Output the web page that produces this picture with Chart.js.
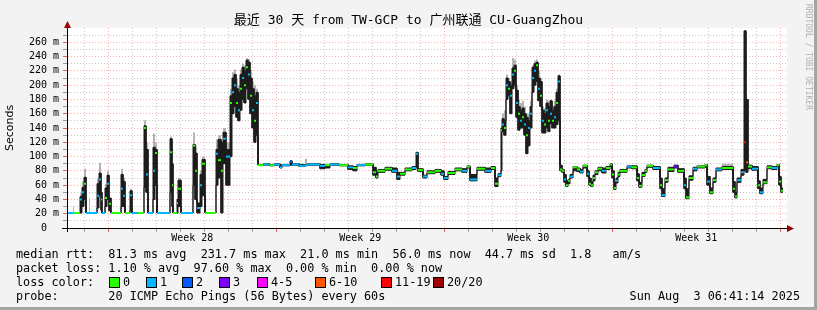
<!DOCTYPE html>
<html><head><meta charset="utf-8">
<script src="https://cdn.jsdelivr.net/npm/chart.js@4/dist/chart.umd.min.js"></script>
<style>
html,body{margin:0;padding:0;background:#f3f3f3;}
#wrap{position:relative;width:817px;height:310px;overflow:hidden;background:#f3f3f3;}
#c{position:absolute;left:0;top:0;}
.t{position:absolute;font-family:"DejaVu Sans Mono","Noto Sans CJK SC",monospace;font-size:11.8px;color:#000;white-space:pre;line-height:14px;}
.box{position:absolute;width:9px;height:9px;border:1px solid #000;}
#title{position:absolute;left:0;width:817px;top:12px;text-align:center;font-family:"DejaVu Sans Mono","Noto Sans CJK SC",monospace;font-size:13px;line-height:16px;white-space:pre;}
#rrd{position:absolute;left:800px;top:4px;transform-origin:0 0;transform:translate(13px,0) rotate(90deg);font-family:"DejaVu Sans Mono",monospace;font-size:8px;color:#b0b0b0;white-space:pre;}
.edgeR{position:absolute;left:814px;top:0;width:3px;height:310px;background:#a5a5a5;}
.edgeB{position:absolute;left:0;top:307px;width:817px;height:3px;background:#a5a5a5;}
</style></head><body>
<div id="wrap">
<canvas id="c" width="817" height="310"></canvas>
<div id="title">最近 30 天 from TW-GCP to 广州联通 CU-GuangZhou</div>
<div id="rrd">RRDTOOL / TOBI OETIKER</div>
<div class="t" style="left:16px;top:247px">median rtt:  81.3 ms avg  231.7 ms max  21.0 ms min  56.0 ms now  44.7 ms sd  1.8   am/s</div>
<div class="t" style="left:16px;top:261px">packet loss: 1.10 % avg  97.60 % max  0.00 % min  0.00 % now</div>
<div class="t" style="left:16px;top:275px">loss color:</div>
<div id="legend"></div>
<div class="t" style="left:16px;top:289px">probe:       20 ICMP Echo Pings (56 Bytes) every 60s</div>
<div class="t" style="right:17px;top:289px">Sun Aug  3 06:41:14 2025</div>
<div class="edgeR"></div><div class="edgeB"></div>
</div>
<script>
// ---- data (x = hours since start of the 30-day window) ----
const startHours = [
0,6,7,13,15,17,19,22,23,30,32,34,35,38,40,42,44,54,56,58,63,65,71,77,79,81,86,88,90,103,105,106,110,111,114,126,128,130,133,135,138,149,151,154,156,159,
163,165,167,169,171,173,175,177,179,181,183,185,187,189,
191,196,203,207,213,215,223,225,232,238,240,253,258,263,272,281,286,290,298,306,309,311,318,325,330,333,338,345,349,351,356,360,368,374,377,381,388,395,400,403,410,418,424,428,431,
434,435,437,439,441,443,445,447,449,451,453,455,457,459,461,463,465,467,469,471,473,475,477,479,481,483,485,487,489,491,493,
495,497,499,501,503,506,510,513,516,520,522,524,526,528,531,535,539,543,545,547,549,551,553,560,565,570,572,575,578,580,586,593,595,598,601,607,611,617,619,622,626,630,638,640,643,646,649,655,666,668,670,674,677,679,681,685,691,693,696,700,705,710,712,714];
const endHour = 716;
const medianRtt = [
21,21,21,40,50,62,21,21,21,45,68,40,21,42,62,34,21,55,45,21,46,21,21,140,75,21,80,105,21,106,60,21,35,55,21,115,80,28,60,90,21,104,95,80,125,100,
175,190,200,175,165,195,210,200,225,215,185,165,150,175,
88,89,88,89,85,88,93,89,87,88,89,87,88,89,88,85,84,88,89,78,72,80,83,80,72,76,82,84,104,81,72,78,80,76,70,77,82,80,86,68,83,80,84,62,74,
137,145,140,200,195,185,215,220,175,160,150,155,145,130,140,160,210,220,228,195,185,150,145,165,150,160,150,155,175,205,82,
80,68,60,66,72,85,82,79,87,76,62,60,70,78,83,80,84,89,75,56,66,75,80,86,85,70,59,74,80,87,84,60,46,67,82,86,80,60,43,70,83,86,88,65,50,67,82,84,55,44,67,78,120,92,86,83,60,50,64,85,84,88,65,52];
const smokeLow = [
21,21,21,21,30,40,21,21,21,28,45,25,21,30,40,24,21,30,30,21,25,21,21,57,50,21,40,60,21,50,30,21,21,30,21,60,40,21,30,45,21,60,70,21,90,60,
100,160,170,155,150,165,180,175,195,180,160,140,120,130,
88,88,87,88,84,87,88,88,86,87,88,83,84,88,87,82,80,87,88,74,70,78,81,78,68,74,80,82,85,79,70,76,78,74,68,75,80,78,84,66,81,78,82,58,72,
80,135,130,180,185,160,195,200,155,137,140,140,130,104,115,140,190,200,205,178,170,133,133,140,135,146,140,140,145,150,80,
78,64,58,62,70,80,79,77,84,72,60,58,66,75,80,77,82,86,70,54,63,72,78,84,83,66,57,72,78,85,82,55,44,64,79,84,78,55,41,67,80,84,85,60,48,64,80,82,50,42,64,74,80,78,83,81,55,48,62,83,82,86,60,50];
const smokeHigh = [
21,21,21,44,57,71,21,21,21,62,77,50,21,56,74,42,21,75,65,21,52,21,21,143,110,21,113,110,21,125,90,21,40,67,21,117,105,35,75,96,21,110,124,120,134,110,
185,210,215,195,190,215,225,220,235,232,210,195,185,190,
89,90,89,90,88,89,94,90,89,89,90,89,88,90,89,87,86,89,90,85,78,82,85,84,78,78,84,86,106,83,74,80,82,80,72,79,84,83,87,75,85,84,86,70,76,
140,153,150,210,205,200,224,228,193,170,165,168,160,155,150,170,225,230,232,210,205,165,160,175,170,178,165,170,190,213,88,
82,75,66,68,75,86,84,82,88,80,70,64,74,80,85,84,86,90,80,64,70,78,82,87,87,76,64,78,82,88,86,70,55,70,85,88,83,70,55,73,85,87,89,72,56,70,84,86,65,50,70,82,276,180,88,86,66,56,68,87,86,89,72,56];
const smokeOuter = [
21,30,21,48,65,83,21,42,21,70,91,50,21,62,80,42,21,83,70,21,55,21,21,151,120,21,132,120,21,128,90,21,40,70,21,134,115,35,80,100,21,124,130,120,140,120,
195,218,222,210,200,222,230,228,238,237,220,205,200,195,
89,90,89,90,88,89,94,90,89,97,90,89,90,90,89,87,86,89,90,85,78,82,85,84,78,78,84,86,106,83,74,80,82,80,72,79,84,83,87,75,85,84,86,70,76,
140,160,165,215,210,205,238,236,200,180,175,178,170,160,160,178,228,234,236,220,210,170,168,180,178,180,172,178,195,215,88,
82,75,66,68,75,86,84,82,88,80,70,64,74,80,85,84,86,90,80,64,70,78,82,87,87,76,64,78,82,88,86,70,55,70,85,88,83,70,55,73,85,87,89,72,56,70,84,90,65,50,70,82,276,180,88,86,66,56,68,87,86,89,72,56];
const lossCode = [
1,0,0,1,1,0,1,1,1,1,1,0,1,0,1,0,0,1,1,0,1,1,0,0,1,1,1,0,1,0,0,0,0,0,1,0,0,1,1,0,0,1,0,0,1,1,
0,1,1,0,1,0,1,0,0,1,0,1,0,1,
0,1,0,1,1,1,2,1,1,1,1,1,0,1,0,1,0,1,0,0,0,0,0,1,1,0,0,1,1,0,1,0,0,1,1,0,0,1,0,1,0,1,0,0,1,
0,1,0,1,0,1,1,0,1,0,1,0,1,0,1,1,1,1,0,1,0,1,0,1,0,1,0,1,0,1,0,
0,1,0,0,1,0,0,1,0,1,0,0,0,0,0,1,0,0,0,0,1,0,0,1,0,0,0,0,0,0,1,0,1,0,0,3,0,1,0,0,1,0,0,1,0,0,1,0,0,0,1,1,6,5,0,1,0,1,0,0,1,0,0,0];
const lossColors = ['#26ff00','#00b8ff','#0059ff','#7e00ff','#ff00ff','#ff5500','#ff0000','#a10000'];
const lossLabels = ['0','1','2','3','4-5','6-10','11-19','20/20'];
const weekLabels = ['Week 28','Week 29','Week 30','Week 31'];
const yMajorLabels = [0,20,40,60,80,100,120,140,160,180,200,220,240,260];
const spanHours = 720;
const firstMidnight = 17 + 18.77/60;   // window starts Fri Jul 4 06:41:14
const firstSunday = 1;                 // day index of Sun Jul 6

// ---- build series ----
function endOf(i){ return i+1 < startHours.length ? startHours[i+1] : endHour; }
function steps(arr){ const o=[]; arr.forEach((v,i)=>{ o.push({x:startHours[i],y:v},{x:endOf(i),y:v}); }); return o; }
const medianPts = [], medianCol = [];
medianRtt.forEach((v,i)=>{
  medianPts.push({x:startHours[i],y:v},{x:endOf(i),y:v},{x:endOf(i),y:null});
  const c = lossColors[lossCode[i]];
  medianCol.push(c,c,c);
});

const dayTicks = []; for(let k=0;k<30;k++) dayTicks.push(firstMidnight+24*k);
const weekMid = weekLabels.map((_,j)=>firstMidnight+24*firstSunday+84+168*j);
const isWeekLine = v => dayTicks.some((d,k)=>Math.abs(d-v)<1e-6 && (k-firstSunday)%7===0);
const isDayLine = v => dayTicks.some(d=>Math.abs(d-v)<1e-6);
const xTicks = dayTicks.concat(weekMid).sort((a,b)=>a-b);
const yTicks = []; for(let v=0; v<280; v+=10) yTicks.push(v);

const MAJ = 'rgba(240,120,120,0.6)', MIN = 'rgba(180,180,180,0.75)';

const decor = {
  id:'decor',
  beforeDraw(chart){
    const {ctx, chartArea:a} = chart;
    ctx.save();
    ctx.fillStyle='#f3f3f3'; ctx.fillRect(0,0,chart.width,chart.height);
    ctx.fillStyle='#ffffff'; ctx.fillRect(a.left,a.top,a.right-a.left,a.bottom-a.top);
    ctx.restore();
  },
  afterDraw(chart){
    const {ctx, chartArea:a} = chart;
    ctx.save();
    ctx.strokeStyle='#000'; ctx.lineWidth=1;
    ctx.beginPath();
    ctx.moveTo(a.left-5, a.bottom+0.5); ctx.lineTo(a.right+1, a.bottom+0.5);
    ctx.moveTo(a.left+0.5, a.bottom+4); ctx.lineTo(a.left+0.5, a.top-2);
    ctx.stroke();
    ctx.fillStyle='#9a0000';
    ctx.beginPath(); ctx.moveTo(a.right, a.bottom-3); ctx.lineTo(a.right+7, a.bottom+0.5); ctx.lineTo(a.right,a.bottom+4); ctx.closePath(); ctx.fill();
    ctx.beginPath(); ctx.moveTo(a.left-3, a.top); ctx.lineTo(a.left+0.5, a.top-7); ctx.lineTo(a.left+4,a.top); ctx.closePath(); ctx.fill();
    ctx.restore();
  }
};

new Chart(document.getElementById('c'), {
  type:'line',
  data:{ datasets:[
    { label:'median', data:medianPts, order:0, borderWidth:2, spanGaps:false, pointRadius:0,
      borderColor:'#26ff00', segment:{ borderColor: c => medianCol[c.p0DataIndex] }, fill:false },
    { label:'smokeHigh', data:steps(smokeHigh), order:1, borderWidth:1, borderColor:'#1c1c1c', pointRadius:0,
      backgroundColor:'#1c1c1c', fill:{target:2} },
    { label:'smokeLow', data:steps(smokeLow), order:1, borderWidth:1, borderColor:'#1c1c1c', pointRadius:0, fill:false },
    { label:'smokeOuter', data:steps(smokeOuter), order:3, borderWidth:0, borderColor:'rgba(0,0,0,0)', pointRadius:0,
      backgroundColor:'#b4b4b4', fill:{target:2} }
  ]},
  options:{
    responsive:false, animation:false, events:[],
    layout:{ padding:{left:0,right:30,top:28,bottom:62} },
    plugins:{ legend:{display:false}, tooltip:{enabled:false}, title:{display:false} },
    scales:{
      x:{ type:'linear', min:0, max:spanHours,
        afterBuildTicks: s => { s.ticks = xTicks.map(v=>({value:v})); },
        afterFit: s => { s.height = 20; },
        ticks:{ autoSkip:false, maxRotation:0, minRotation:0, padding:0, color:'#000',
          font:{family:'DejaVu Sans Mono', size:10},
          callback: v => { const j = weekMid.findIndex(w=>Math.abs(w-v)<1e-6); return j>=0 ? weekLabels[j] : ''; } },
        grid:{ lineWidth:1, tickLength:4,
          color: c => c.tick && isWeekLine(c.tick.value) ? MAJ : (c.tick && isDayLine(c.tick.value) ? MIN : 'rgba(0,0,0,0)'),
          tickColor: c => c.tick && isWeekLine(c.tick.value) ? '#e06060' : (c.tick && isDayLine(c.tick.value) ? '#999' : 'rgba(0,0,0,0)') },
        border:{ display:true, color:'#000', width:1, dash:[1,2] }
      },
      y:{ type:'linear', min:0, max:280,
        afterBuildTicks: s => { s.ticks = yTicks.map(v=>({value:v})); },
        afterFit: s => { s.width = 67; },
        ticks:{ autoSkip:false, padding:4, color:'#000', font:{family:'DejaVu Sans Mono', size:10},
          callback: v => yMajorLabels.includes(v) ? (v===0 ? '0  ' : v+' m') : '' },
        grid:{ lineWidth:1, tickLength:4,
          color: c => c.tick && yMajorLabels.includes(c.tick.value) ? MAJ : MIN,
          tickColor: c => c.tick && yMajorLabels.includes(c.tick.value) ? '#e06060' : '#999' },
        border:{ display:true, color:'#000', width:1, dash:[1,2] },
        title:{ display:true, text:'Seconds', color:'#000', font:{family:'DejaVu Sans', size:11}, padding:{top:4,bottom:0} }
      }
    }
  },
  plugins:[decor]
});

// loss colour legend
const lg = document.getElementById('legend');
const labelX = [123,160,196,233,271,329,395,447];
lossLabels.forEach((l,i)=>{
  const b=document.createElement('div'); b.className='box';
  b.style.left=(labelX[i]-14)+'px'; b.style.top='277px'; b.style.background=lossColors[i]; lg.appendChild(b);
  const t=document.createElement('div'); t.className='t'; t.textContent=l;
  t.style.left=labelX[i]+'px'; t.style.top='275px'; lg.appendChild(t);
});
</script>
</body></html>
